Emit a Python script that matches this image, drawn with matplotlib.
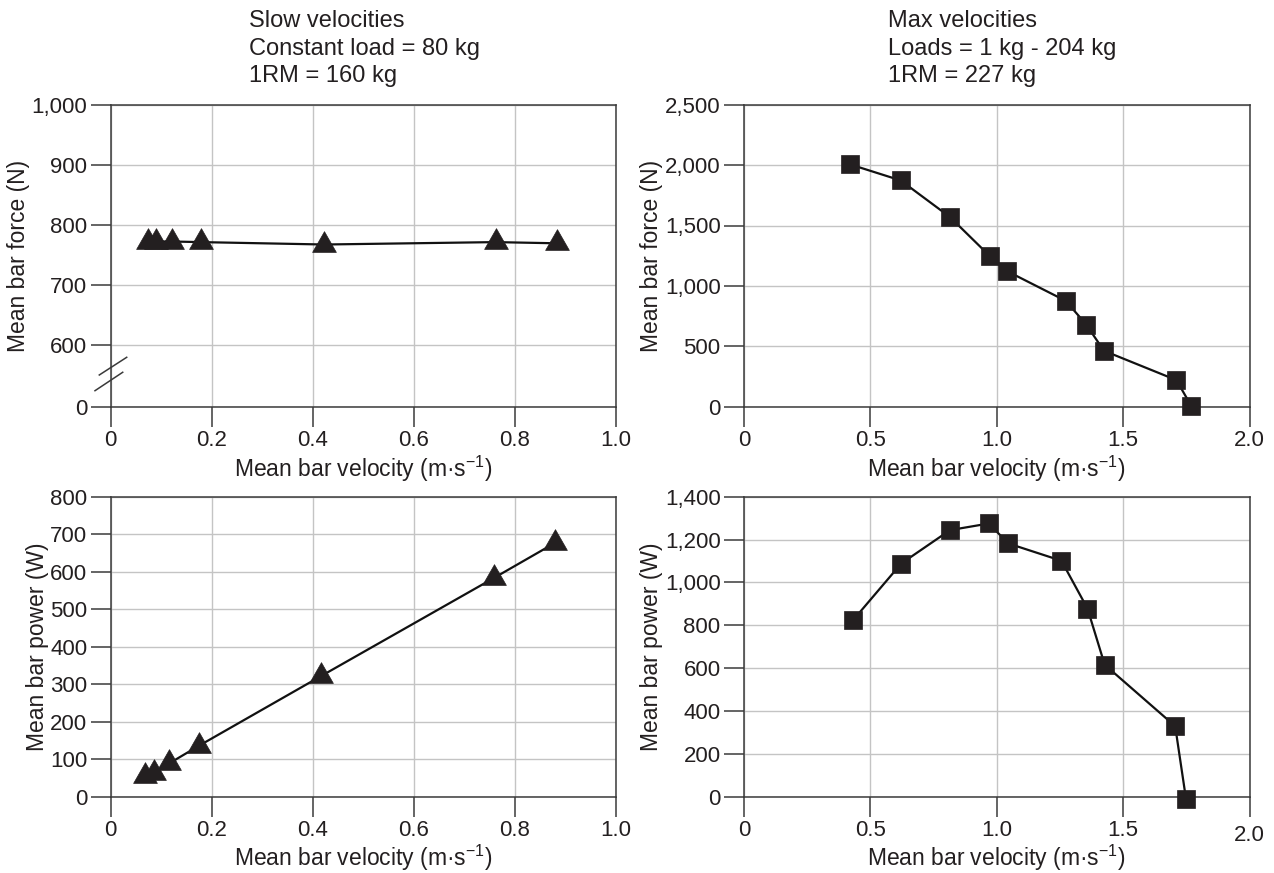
import numpy as np
import matplotlib
matplotlib.use('Agg')
import matplotlib.pyplot as plt
from matplotlib.ticker import FuncFormatter

plt.rcParams['font.family'] = ['Liberation Sans', 'DejaVu Sans']
plt.rcParams['mathtext.fontset'] = 'custom'
plt.rcParams['mathtext.rm'] = 'Liberation Sans'
plt.rcParams['mathtext.it'] = 'Liberation Sans:italic'

# slow velocities, constant load 80 kg
slow_vel_force = [0.073, 0.090, 0.122, 0.179, 0.423, 0.762, 0.884]
slow_force = [772, 772, 772, 771, 767, 771, 769]
slow_vel_power = [0.0675, 0.085, 0.116, 0.175, 0.417, 0.7585, 0.880]
slow_power = [54, 64, 89, 136, 322, 583, 677]

# max velocities, loads 1 - 204 kg
max_vel_force = [0.421, 0.62, 0.815, 0.972, 1.042, 1.273, 1.354, 1.424, 1.711, 1.769]
max_force = [2005, 1873, 1570, 1248, 1121, 876, 680, 463, 220, 8]
max_vel_power = [0.433, 0.622, 0.815, 0.969, 1.045, 1.256, 1.359, 1.427, 1.706, 1.749]
max_power = [826, 1088, 1244, 1275, 1182, 1101, 878, 616, 329, -12]

slow_title = "Slow velocities\nConstant load = 80 kg\n1RM = 160 kg"
max_title = "Max velocities\nLoads = 1 kg - 204 kg\n1RM = 227 kg"

TEXT = '#231f20'
SPINE = '#3a3a3a'
GRID = '#c4c4c4'
MARK = '#231f20'

# triangle with its centroid on the data point
tri = [(0, 1), (-0.86, -0.5), (0.86, -0.5), (0, 1)]

# broken y axis for the top-left panel (0 .. 600 squeezed)
BREAK = 600
SQUEEZE = 103.3 / 600


def fwd(y):
    y = np.asarray(y, dtype=float)
    return np.where(y >= BREAK, y, BREAK - (BREAK - y) * SQUEEZE)


def inv(v):
    v = np.asarray(v, dtype=float)
    return np.where(v >= BREAK, v, BREAK - (BREAK - v) / SQUEEZE)


def style(ax, xmax, xticks, ylim, yticks, ylabel):
    ax.set_xlim(0, xmax)
    ax.set_ylim(*ylim)
    ax.set_xticks(xticks)
    ax.set_yticks(yticks)
    ax.xaxis.set_major_formatter(FuncFormatter(lambda v, p: '0' if v == 0 else f'{v:.1f}'))
    ax.yaxis.set_major_formatter(FuncFormatter(lambda v, p: f'{v:,.0f}'))
    ax.grid(True, color=GRID, lw=1.0)
    ax.set_axisbelow(True)
    for s in ax.spines.values():
        s.set_color(SPINE)
        s.set_linewidth(1.1)
    ax.tick_params(direction='out', length=14.4, width=1.1, color=SPINE,
                   labelsize=16, pad=2.5, labelcolor=TEXT)
    ax.set_xlabel('Mean bar velocity (m·s$^{-1}$)', fontsize=16.5, color=TEXT)
    ax.xaxis.set_label_coords(0.5, -0.155)
    ax.set_ylabel(ylabel, fontsize=16.5, color=TEXT, labelpad=1)


fig = plt.figure(figsize=(12.74, 8.73), dpi=100)
W, H = 1274, 873
ax_tl = fig.add_axes([110.7 / W, 1 - 406.7 / H, 505 / W, 302 / H])
ax_tr = fig.add_axes([744 / W, 1 - 406.7 / H, 505.5 / W, 302 / H])
ax_bl = fig.add_axes([110.7 / W, 1 - 796.7 / H, 505 / W, 300 / H])
ax_br = fig.add_axes([744 / W, 1 - 796.7 / H, 505.5 / W, 300 / H])

line_kw = dict(color='#111111', lw=1.6, mfc=MARK, mec=MARK, mew=0.5, clip_on=False, zorder=3)

# top left: force, slow velocities (broken axis)
ax_tl.set_yscale('function', functions=(fwd, inv))
ax_tl.plot(slow_vel_force, slow_force, marker=tri, ms=19.9, **line_kw)
style(ax_tl, 1.0, [0, 0.2, 0.4, 0.6, 0.8, 1.0], (0, 1000),
      [0, 600, 700, 800, 900, 1000], 'Mean bar force (N)')
for xs, ys in [((-0.0226, 0.0317), (0.105, 0.1636)), ((-0.0311, 0.0238), (0.053, 0.114))]:
    ax_tl.plot(xs, ys, transform=ax_tl.transAxes, color=SPINE, lw=1.1, clip_on=False)

# top right: force, max velocities
ax_tr.plot(max_vel_force, max_force, marker='s', ms=13.5, **line_kw)
style(ax_tr, 2.0, [0, 0.5, 1.0, 1.5, 2.0], (0, 2500),
      [0, 500, 1000, 1500, 2000, 2500], 'Mean bar force (N)')

# bottom left: power, slow velocities
ax_bl.plot(slow_vel_power, slow_power, marker=tri, ms=19.9, **line_kw)
style(ax_bl, 1.0, [0, 0.2, 0.4, 0.6, 0.8, 1.0], (0, 800),
      list(range(0, 801, 100)), 'Mean bar power (W)')

# bottom right: power, max velocities
ax_br.plot(max_vel_power, max_power, marker='s', ms=13.5, **line_kw)
style(ax_br, 2.0, [0, 0.5, 1.0, 1.5, 2.0], (0, 1400),
      list(range(0, 1401, 200)), 'Mean bar power (W)')
ax_br.xaxis.get_major_ticks()[-1].set_pad(6.1)

fig.text(249 / W, 1 - 10 / H, slow_title, fontsize=17, color=TEXT,
         ha='left', va='top', linespacing=1.33)
fig.text(888 / W, 1 - 10 / H, max_title, fontsize=17, color=TEXT,
         ha='left', va='top', linespacing=1.33)

fig.savefig('out.png', dpi=100)
